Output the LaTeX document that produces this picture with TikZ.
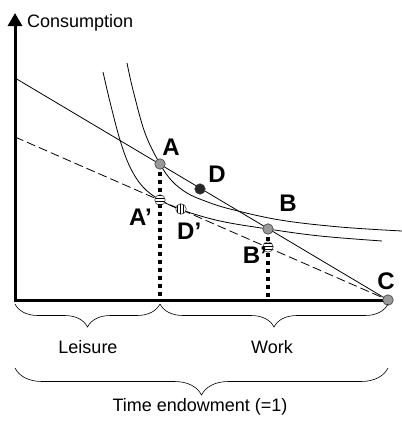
\documentclass[tikz,border=0pt]{standalone}
\usepackage{fontspec}
\setmainfont{Liberation Sans}
\usetikzlibrary{arrows.meta, decorations.pathreplacing, patterns, positioning}

\tikzset{
  pt/.style={circle, draw=black!75, line width=0.6pt, inner sep=0pt, minimum size=10.5pt},
  ptgray/.style={pt, fill=black!40},
  ptblack/.style={pt, fill=black!85},
  pthoriz/.style={pt, fill=white, postaction={pattern=horizontal lines}},
  ptvert/.style={pt, fill=white, postaction={pattern=vertical lines}},
  lbl/.style={font=\fontsize{24}{26}\selectfont\bfseries, inner sep=0pt},
  txt/.style={font=\fontsize{18}{20}\selectfont, inner sep=0pt},
  budget/.style={line width=0.8pt},
  curve/.style={line width=0.8pt},
  dotline/.style={line width=4pt, dash pattern=on 4pt off 4pt},
  brace/.style={decorate, decoration={brace, mirror, amplitude=#1}, line width=0.6pt},
}

\begin{document}
\begin{tikzpicture}[x=1pt, y=-1pt]
\useasboundingbox (0,0) rectangle (402,421);

% axes
\coordinate (O) at (15,300);
\coordinate (Ytop) at (15,13);
\coordinate (C) at (388,300);
\coordinate (Y1) at (15,78);
\coordinate (Y2) at (15,137);
\draw[line width=3pt, {Triangle[width=14pt,length=13pt]}-] (Ytop) -- (O) -- (C);
\node[txt, anchor=base west] (ylab) at (27,27) {Consumption};

% budget lines
\draw[budget] (Y1) -- (C);
\draw[budget, dash pattern=on 9pt off 4pt] (Y2) -- (C);

% indifference curves
\draw[curve] plot[smooth, tension=0.6] coordinates {(127,63) (133,90) (145,133) (160,164) (172,181) (187,193) (205,201) (230,209) (280,220) (340,227) (402,231)};
\draw[curve] plot[smooth, tension=0.6] coordinates {(103,72) (110,102) (120,140) (130,167) (143,187) (160,200) (182,210) (220,221) (268,229) (320,236) (382,241)};

% dotted drops
\coordinate (A0) at (160,164);
\coordinate (B0) at (268,229);
\draw[dotline] (A0) -- (A0 |- O);
\draw[dotline] (B0) -- (B0 |- O);

% points
\node[ptgray] (A) at (A0) {};
\node[ptgray] (B) at (B0) {};
\node[ptgray] (Cp) at (C) {};
\node[ptblack] (D) at (200,189) {};
\node[pthoriz] (A') at (160,200) {};
\node[pthoriz] (B') at (268,247) {};
\node[ptvert] (D') at (181,209) {};

% labels
\node[lbl] (lA) at (171,147) {A};
\node[lbl] (lD) at (217,174) {D};
\node[lbl] (lB) at (288,203) {B};
\node[lbl] (lC) at (386,281) {C};
\node[lbl, anchor=east] (lA') at (152,217) {A'};
\node[lbl, anchor=west] (lD') at (177,231) {D'};
\node[lbl, anchor=east] (lB') at (267,255) {B'};

% time braces
\draw[brace=23pt] (15,304) -- (160,304);
\draw[brace=23pt] (160,304) -- (388,304);
\draw[brace=27pt] (15,368) -- (388,368);
\node[txt] (leis) at (88,347) {Leisure};
\node[txt] (work) at (272,347) {Work};
\node[txt] (tend) at (200,407) {Time endowment (=1)};
\end{tikzpicture}
\end{document}
